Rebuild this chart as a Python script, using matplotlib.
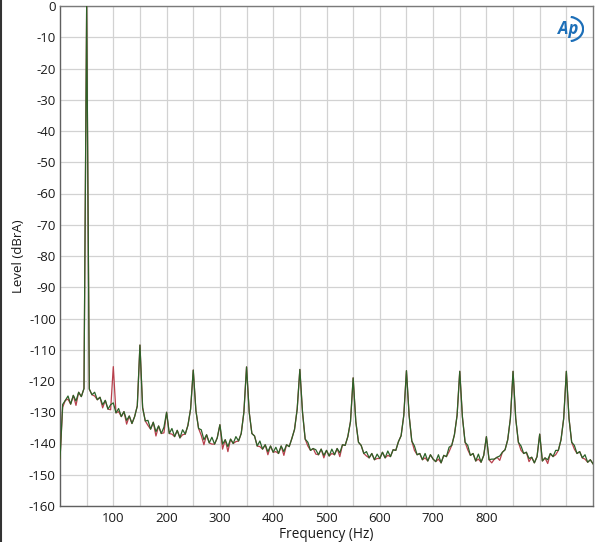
import matplotlib
matplotlib.use("Agg")
import matplotlib.pyplot as plt
from matplotlib.patches import Arc

# ---- data ----
freq_hz = list(range(0, 1001, 5))

green_db = [
    -145.0, -127.5, -126.2, -124.8, -127.4, -124.6, -126.4, -123.6, -125.0, -122.4,   # 0-45
    0.0, -122.6, -124.4, -123.6, -126.0, -125.2, -127.6, -126.2, -129.0, -127.6,      # 50-95
    -127.0, -130.2, -128.8, -131.4, -129.8, -132.6, -131.2, -133.6, -131.4, -128.0,   # 100-145
    -108.5, -128.5, -132.8, -132.6, -135.4, -133.2, -136.2, -134.4, -136.8, -134.8,   # 150-195
    -130.0, -136.8, -135.2, -137.8, -135.8, -138.2, -135.6, -137.0, -134.2, -129.0,   # 200-245
    -116.5, -129.5, -135.2, -135.6, -138.8, -137.2, -139.8, -138.0, -140.2, -138.2,   # 250-295
    -134.0, -140.2, -138.8, -141.0, -138.6, -140.0, -137.8, -139.2, -136.8, -130.0,   # 300-345
    -115.5, -130.0, -136.8, -137.6, -140.8, -139.2, -141.8, -140.4, -142.6, -140.8,   # 350-395
    -142.8, -141.2, -143.2, -140.8, -142.6, -140.4, -141.0, -138.4, -135.5, -129.0,   # 400-445
    -116.3, -130.0, -138.6, -139.6, -142.2, -141.6, -142.0, -143.6, -141.8, -143.8,   # 450-495
    -142.2, -144.0, -141.8, -143.6, -141.6, -143.0, -140.4, -140.6, -137.8, -133.0,   # 500-545
    -119.0, -133.0, -139.6, -140.6, -143.2, -142.6, -144.6, -143.2, -145.2, -143.4,   # 550-595
    -144.8, -142.8, -144.6, -142.4, -144.2, -142.0, -142.2, -139.4, -137.5, -131.0,   # 600-645
    -116.7, -131.0, -139.2, -140.8, -143.6, -143.2, -145.2, -143.2, -145.6, -143.6,   # 650-695
    -145.0, -145.8, -143.6, -146.2, -143.8, -144.2, -141.2, -140.6, -137.2, -131.0,   # 700-745
    -116.9, -131.5, -139.6, -140.6, -143.8, -143.2, -145.6, -143.4, -146.0, -143.8,   # 750-795
    -137.8, -145.2, -145.0, -145.0, -144.4, -144.0, -142.8, -142.0, -138.8, -132.0,   # 800-845
    -116.9, -132.0, -139.6, -140.8, -143.2, -142.8, -144.8, -144.4, -146.2, -144.2,   # 850-895
    -137.0, -145.6, -144.6, -145.2, -143.2, -144.2, -142.2, -142.2, -138.8, -132.0,   # 900-945
    -116.9, -132.0, -139.6, -140.6, -143.2, -142.6, -144.6, -143.6, -146.0, -145.2,   # 950-995
    -146.5,                                                                             # 1000
]

red_db = [
    -145.0, -128.4, -126.2, -125.8, -127.4, -124.6, -127.8, -123.6, -125.0, -122.4,   # 0-45
    0.0, -122.6, -124.4, -124.8, -126.0, -125.2, -128.6, -126.2, -129.0, -129.2,      # 50-95
    -115.4, -130.2, -129.8, -131.4, -129.8, -133.8, -131.2, -133.6, -131.4, -128.0,   # 100-145
    -108.5, -128.5, -132.8, -134.2, -135.4, -133.2, -137.6, -134.4, -136.8, -136.6,   # 150-195
    -130.0, -136.8, -137.0, -137.8, -135.8, -138.2, -137.2, -137.0, -134.2, -129.0,   # 200-245
    -116.5, -129.5, -135.2, -137.4, -140.4, -137.2, -139.8, -140.2, -140.2, -138.2,   # 250-295
    -134.0, -141.8, -138.8, -142.6, -138.6, -140.0, -139.4, -139.2, -136.8, -130.0,   # 300-345
    -115.5, -130.0, -136.8, -137.6, -140.8, -141.0, -141.8, -140.4, -143.6, -140.8,   # 350-395
    -142.8, -142.6, -143.2, -140.8, -143.8, -140.4, -141.0, -138.4, -135.5, -129.0,   # 400-445
    -116.3, -130.0, -138.6, -140.8, -142.2, -141.6, -143.4, -143.6, -141.8, -144.6,   # 450-495
    -142.2, -144.0, -143.2, -143.6, -141.6, -144.2, -140.4, -140.6, -137.8, -133.0,   # 500-545
    -119.0, -133.0, -139.6, -140.6, -143.2, -144.0, -144.6, -143.2, -145.2, -144.8,   # 550-595
    -144.8, -142.8, -144.6, -143.8, -144.2, -142.0, -142.2, -139.4, -137.5, -131.0,   # 600-645
    -116.7, -131.0, -139.2, -142.2, -143.6, -143.2, -145.2, -144.6, -145.6, -143.6,   # 650-695
    -145.0, -145.8, -145.0, -146.2, -143.8, -144.2, -142.6, -140.6, -137.2, -131.0,   # 700-745
    -116.9, -131.5, -139.6, -142.0, -143.8, -143.2, -145.6, -145.0, -146.0, -143.8,   # 750-795
    -137.8, -145.2, -146.2, -145.0, -144.4, -145.4, -142.8, -142.0, -138.8, -132.0,   # 800-845
    -116.9, -132.0, -139.6, -142.2, -143.2, -142.8, -145.8, -144.4, -146.2, -144.2,   # 850-895
    -137.0, -145.6, -144.6, -146.4, -143.2, -144.2, -143.6, -142.2, -138.8, -132.0,   # 900-945
    -116.9, -132.0, -139.6, -141.8, -143.2, -142.6, -144.6, -145.0, -146.0, -145.2,   # 950-995
    -146.5,                                                                             # 1000
]

x_ticks = [100, 200, 300, 400, 500, 600, 700, 800]
x_tick_labels = ["100", "200", "300", "400", "500", "600", "700", "800"]
x_minor_grid = [50, 150, 250, 350, 450, 550, 650, 750, 850, 900, 950]
y_ticks = list(range(-160, 1, 10))
y_tick_labels = [str(v) for v in y_ticks]

# ---- figure ----
plt.rcParams['font.family'] = ['Open Sans', 'DejaVu Sans']
fig = plt.figure(figsize=(6.0, 5.42), dpi=100)
ax = fig.add_axes([60/600, 1 - 506/542, (593 - 60)/600, (506 - 6)/542])

ax.plot(freq_hz, red_db, color='#b8404c', lw=0.9, zorder=3)
ax.plot(freq_hz, green_db, color='#2c6228', lw=0.9, zorder=4)

ax.set_xlim(0, 1000)
ax.set_ylim(-160, 0)
ax.set_xticks(x_ticks)
ax.set_xticklabels(x_tick_labels)
ax.set_xticks(x_minor_grid, minor=True)
ax.set_yticks(y_ticks)
ax.set_yticklabels(y_tick_labels)

ax.grid(True, which='both', axis='x', color='#d2d2d2', lw=0.9)
ax.grid(True, which='major', axis='y', color='#d2d2d2', lw=0.9)
ax.set_axisbelow(True)

ax.tick_params(axis='both', which='both', length=0, labelsize=9.5, colors='#1a1a1a')
ax.tick_params(axis='y', pad=3)
ax.tick_params(axis='x', pad=4)

for s in ax.spines.values():
    s.set_color('#7a7a7a')
    s.set_linewidth(1.0)
ax.spines['left'].set_color('#606060')
ax.spines['bottom'].set_color('#606060')

ax.set_xlabel('Frequency (Hz)', fontsize=9.8, labelpad=1.5, color='#1a1a1a')
ax.set_ylabel('Level (dBrA)', fontsize=9.5, labelpad=3, color='#1a1a1a')

# AP logo
fig.text(568/600, 1 - 29/542, 'Ap', fontsize=12, fontstyle='italic', fontweight='bold',
         color='#1d6fb8', ha='center', va='center')
logo_ax = fig.add_axes([548/600, 1 - 42/542, 36/600, 26/542])
logo_ax.set_xlim(0, 1); logo_ax.set_ylim(0, 1); logo_ax.axis('off')
logo_ax.add_patch(Arc((0.55, 0.5), 0.85, 0.95, theta1=-80, theta2=80, color='#1d6fb8', lw=1.6))

# screenshot border at left edge
fig.add_artist(plt.Line2D([0.002, 0.002], [0, 1], color='#333333', lw=1.5))

fig.savefig('out.png', dpi=100)
